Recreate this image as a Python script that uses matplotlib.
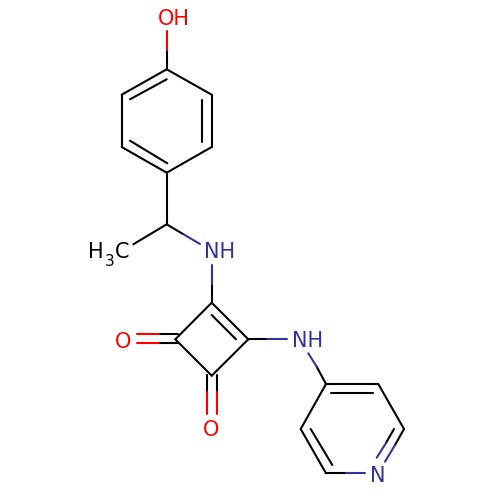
import matplotlib
matplotlib.use("Agg")
import matplotlib.pyplot as plt
from matplotlib.collections import LineCollection

BLACK = "#000000"
BLUE = "#333399"
RED = "#ff0000"

black_bonds = [
    ((166.7, 69.3), (166.7, 50)),
    ((166.7, 69.3), (211.7, 94.7)), ((211.7, 94.7), (211.7, 147)),
    ((211.7, 147), (166.7, 172.7)), ((166.7, 172.7), (121.7, 147)),
    ((121.7, 147), (121.7, 94.7)), ((121.7, 94.7), (166.7, 69.3)),
    ((130, 99.3), (166.7, 79.3)), ((202.3, 100), (202.3, 141.7)),
    ((130, 140.7), (167.3, 163.3)),
    ((166.7, 172.7), (166.7, 224.3)), ((166.7, 224.3), (133.3, 244.3)),
    ((166.7, 224.3), (183.3, 234.2)),
    ((211.7, 284), (211.7, 302.7)),
    ((211.7, 302.7), (248.3, 339.3)), ((248.3, 339.3), (211.7, 375.7)),
    ((211.7, 375.7), (175.3, 339.3)), ((175.3, 339.3), (211.7, 302.7)),
    ((211.7, 315), (236, 339.3)),
    ((178.3, 334), (159.3, 334)), ((178.3, 343.3), (159.3, 343.3)),
    ((207, 375), (207, 391.7)), ((216.7, 375), (216.7, 391.7)),
    ((248.3, 339.3), (266.7, 339.3)),
    ((326, 384), (316.7, 366.7)),
    ((326, 384), (378.3, 384)), ((378.3, 384), (404, 429)),
    ((404, 429), (395, 445)), ((326, 473.3), (346, 473.3)),
    ((326, 473.3), (300.7, 429)), ((300.7, 429), (326, 384)),
    ((331, 393.3), (373.3, 393.3)), ((310.7, 429), (332.3, 465)),
    ((394, 429), (386, 443)),
]
blue_bonds = [
    ((183.3, 234.2), (200, 244)), ((211.7, 265), (211.7, 284)),
    ((266.7, 339.3), (286.7, 339.3)), ((316.7, 366.7), (308.3, 353.3)),
    ((395, 445), (385, 461.7)), ((346, 473.3), (365, 473.3)),
    ((386, 443), (376.7, 457.7)),
]
red_bonds = [
    ((166.7, 50), (166.7, 30.7)),
    ((159.3, 334), (136.7, 334)), ((159.3, 343.3), (136.7, 343.3)),
    ((207, 391.7), (207, 414.3)), ((216.7, 391.7), (216.7, 414.3)),
]

labels = [
    ("OH", 158, 25, RED, 15, "left", "baseline"),
    ("H", 88.5, 258.5, BLACK, 15, "left", "baseline"),
    ("3", 104.5, 265.5, BLACK, 11, "left", "baseline"),
    ("C", 114.5, 258.5, BLACK, 15, "left", "baseline"),
    ("NH", 204, 258.5, BLUE, 15, "left", "baseline"),
    ("O", 122.7, 347.5, RED, 15, "center", "baseline"),
    ("O", 210.7, 436, RED, 15, "center", "baseline"),
    ("NH", 292, 347, BLUE, 15, "left", "baseline"),
    ("N", 370.5, 482, BLUE, 15, "left", "baseline"),
]

fig = plt.figure(figsize=(5, 5), dpi=100, facecolor="white")
ax = fig.add_axes([0, 0, 1, 1])
ax.set_xlim(0, 500)
ax.set_ylim(500, 0)
ax.axis("off")

for segs, col in ((black_bonds, BLACK), (blue_bonds, BLUE), (red_bonds, RED)):
    ax.add_collection(LineCollection(segs, colors=col, linewidths=1.5, capstyle="round"))

for txt, x, y, col, size, ha, va in labels:
    ax.text(x, y, txt, color=col, fontsize=size, ha=ha, va=va, family="DejaVu Sans")

fig.savefig("out.png", dpi=100, facecolor="white")
